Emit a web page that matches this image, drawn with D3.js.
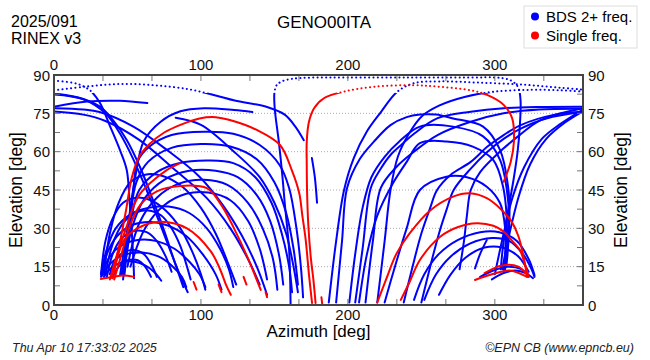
<!DOCTYPE html>
<html><head><meta charset="utf-8">
<script src="https://cdn.jsdelivr.net/npm/d3@7"></script>
<style>body{margin:0;background:#fff}svg{font-family:"Liberation Sans",Arial,sans-serif}</style>
</head><body><svg id="c" width="650" height="360"></svg>
<script>
// ---------- data ----------
const xTickLabels = [0, 100, 200, 300];
const yTickLabels = [0, 15, 30, 45, 60, 75, 90];
const gridLevels = [15, 30, 45, 60, 75];
const legendItems = ["BDS 2+ freq.", "Single freq."];
const titleText = "GENO00ITA";
const headerLines = ["2025/091", "RINEX v3"];
const footerLeft = "Thu Apr 10 17:33:02 2025";
const footerRight = "\u00A9EPN CB (www.epncb.eu)";

// satellite tracks [azimuth, elevation]
const blueTracks = [
  [[0,87.8],[15.4,86.6],[24.5,84],[31.3,79],[38.1,70],[44.9,60.6],[49.5,52.8],[51.5,40],[53,28],[54,18],[54.5,10.5]],
  [[0,84],[22,85.5],[45,86.5],[68,86],[91,84.5],[110,82],[123,80],[145,77.5],[157,74.5],[164,70],[170,64.5]],
  [[0,77.6],[22.5,79.6],[45,79.9],[63.5,79]],
  [[0,82.8],[17.7,81],[31.3,77.6],[40,72.4],[49.5,64.6],[58.5,54],[67.4,41],[75,29],[82,17],[88,7]],
  [[0,82.4],[20,80.5],[35,75],[45,67],[54,57],[63,45],[72,32],[80,20],[87,10],[91,5]],
  [[0,77],[20,76.5],[31,75.5],[54,69.8],[77,60.6],[99,50.2],[115,39],[128,27],[138,15],[145,4]],
  [[0,75.7],[20,74.5],[35,72],[58,64.6],[81,53.5],[104,41.8],[120,30],[132,18],[140,8]],
  [[45,12],[50,30],[53,42],[55.6,51],[61,64],[72.6,71.7],[86,75.8],[102,77],[122.5,76.3],[135,75.5]],
  [[46,12],[51,30],[54,45],[56.7,56],[65,62],[80,66.5],[102,67.8],[122,67],[140,62.6],[153.5,54.8],[160,45.8],[165,30],[168,15],[169.5,3]],
  [[47,12],[52,35],[56,48],[64,56],[80,61.5],[100,63],[120,62],[138,57],[150,48],[158,36],[163,22],[166,8]],
  [[48,12],[53,35],[58,45],[70,52],[85,55.5],[105,56.5],[122,55.5],[137,50],[148,40],[155,28],[160,15],[162,5]],
  [[47,10],[53,30],[62,42],[75,49],[92,52.5],[110,52.5],[125,50],[138,43],[147,33],[153,20],[156,8]],
  [[50,15],[58,32],[70,42],[85,47.5],[102,49],[118,47],[132,40],[142,30],[149,18],[152,6]],
  [[52,15],[62,30],[75,39],[90,43.5],[105,44],[120,41],[132,33],[140,22],[145,10]],
  [[82.8,73.3],[100,70.5],[122.5,60],[140,50],[150,40],[158,28],[163,15],[166,5]],
  [[32,12],[36,22],[42,30],[52,35.5],[64,38],[78,38.5],[92,36],[104,30],[113,22],[119,14],[122,7]],
  [[32,11],[36,20],[43,27],[54,31.5],[66,32.5],[78,31],[90,27],[101,20],[110,12],[114,6]],
  [[33,12],[37,18],[45,23],[58,25.5],[70,25],[82,22],[92,17],[99,12],[103,7]],
  [[33,11.5],[38,16],[47,19.5],[60,20.5],[71,19],[80,15.5],[87,11],[90,7]],
  [[34,11],[38,14],[45,16.5],[54,17],[62,15.5],[68,13],[73,9.5]],
  [[35,12],[40,24],[47,32],[55,36],[64,37],[73,35],[80,30],[86,23],[90,16],[93,10]],
  [[36,11],[40,20],[46,26],[55,29],[63,28.5],[70,25],[76,19],[80,13]],
  [[38,12],[41,17],[47,20.5],[54,21.5],[61,20],[66,16],[70,11]],
  [[40,11],[44,15],[50,17.5],[57,17.5],[62,15],[66,11]],
  [[32,12],[35,25],[40,34],[47,40],[56,42],[66,41],[76,37],[86,30],[94,21],[100,12],[103,6]],
  [[34,12],[38,28],[44,40],[52,48],[62,51],[74,50.5],[88,46],[100,38],[110,28],[118,17],[124,8]],
  [[161,0.5],[160,21.5],[157,40],[155.5,50],[153,63.9],[150.2,77],[150,83],[151.5,86],[155,87.5],[162,88.5],[175,89],[200,89],[240,89],[280,89],[305,88.8],[312,87.5],[316,85],[317.5,80],[317,70],[315.5,60],[313,50],[310,40],[307,30],[305,20],[304,14]],
  [[175.5,57.5],[177.5,50],[179,40]],
  [[187,1],[192,25],[197.4,45],[204,57.5],[213,68],[222.6,75.6],[233.5,83.4],[245,86.8],[262,87.5],[290,87],[320,86.2],[345,85],[360,84.3]],
  [[192,1],[196,25],[199.4,45.7],[208,57],[217.8,64],[229,70.4],[240,73.5],[249,74.5],[260,74.5],[271.6,73],[292,69.8],[303.6,60.6],[309,46.3],[310,37],[309,25],[307,14]],
  [[201,1],[205,20],[210,38],[216,50],[225,58],[235,64],[249,69.8],[271.6,69.8],[292,66],[303.6,56.7],[309,41],[309.5,28],[308,16]],
  [[207.6,1],[213,20],[220,35],[230,47],[240,56],[249,63.3],[267,64],[285,62],[299,56.7],[305.6,46.3],[308,35],[308,24],[306,14]],
  [[225,1],[232,15],[240,30],[249,45],[267,50.2],[281,50],[294.5,46.3],[303.6,39.8],[307,30],[307,20],[306,13]],
  [[220,1],[225,25],[229,45],[234,58],[241,66.5],[250,73.7],[262,78],[280,81.5],[300,83.5],[325,84.2],[345,84],[360,83.5]],
  [[205,1],[210,22],[215.6,45.8],[222,53],[229,58.7],[237,63],[245,67],[260.7,73],[283.6,75.6],[306,77],[330,77.5],[360,77.6]],
  [[212,1],[217,25],[222.4,45.8],[233,54],[245,60],[261,66.5],[283.6,71.7],[306,75],[330,76.5],[360,76.8]],
  [[238,1],[244,15],[250,28],[256,38],[260.7,45],[270,51],[283.6,56],[295,62],[306,66.5],[317.6,70.4],[340,74.4],[360,75.6]],
  [[250,1],[256,15],[262,28],[267,37],[272,45],[283,53],[295,60],[306,65],[317.6,69],[335,73],[360,75.5]],
  [[276,14],[279,25],[281,35],[283.6,45],[290,52],[306,61.3],[318,67],[329,71.7],[345,75],[360,77]],
  [[300,12],[306,28],[312,42],[320,54],[332,65],[345,71],[360,76.5]],
  [[305,14],[310,28],[316,42],[324,55],[335,65],[348,71.5],[360,75.8]],
  [[245,2],[252,12],[262,20],[275,25.5],[290,28.5],[303,28.5],[315,25],[323,18],[327,11.7]],
  [[252,2],[260,12],[270,19],[283,24],[298,26.2],[310,25],[319,20],[325,14],[327,11]],
  [[262,4],[270,12],[280,18.5],[293,22.5],[305,22.5],[316,19],[323,13]],
  [[290,11],[299,13.5],[309,15],[318,14],[323,11.5]],
  [[298,10],[306,12.5],[314,13.5],[321,12.5],[326,10.5]],
  [[286.5,14.3],[290,20],[294.5,25.4]]
];

const redTracks = [
  [[39.5,10.5],[45,25],[49,37],[53,50],[58,58],[65,63],[75,67.5],[86,70.5],[99,73],[110,73.5],[122,72],[138,68.5],[153.8,62.6],[161.8,52.8],[166.8,44],[169,35],[171.3,25.4],[173.5,12],[175.6,0.8]],
  [[178,0.8],[176.5,10],[174.7,18.9],[173,32],[172.2,45],[172,55],[172,63.9],[173.5,71.7],[177,77],[183.7,80.9],[197.4,83.5],[217.8,85.4],[245,86],[260.7,85.5],[283.6,84],[294.7,82.2],[306,78.3],[311.7,73.2],[313,64],[310.8,56],[306,48.2]],
  [[38,10],[43,20],[49,30],[54,38.5],[58,43],[65.3,47.6],[76.7,52.8],[85.8,55.5]],
  [[41,10],[46,20],[51,30],[58.5,39],[70,44.5],[85.8,46.6],[104,45.7],[114,39],[122.5,30],[131.5,18.9],[140.7,5.9]],
  [[40,10.5],[43,18],[47.2,25],[56.7,30],[72.6,32.6],[90.5,30],[106.7,21],[113,14],[117,8],[120.3,4]],
  [[31.8,10.2],[40,11],[47,11.5],[54.5,11]],
  [[220,1],[226,10],[233,20],[242,28],[256,37],[271.6,42.4],[283,43.7],[294.5,41.8],[303.6,37.8],[311,33],[316,27],[319.5,19],[322,11]],
  [[236,2],[242,9],[249,17.6],[262.8,26.7],[275,30.5],[287.7,32],[299,31],[306,28.7],[312,25],[317,21.5],[320.5,16],[323,11]],
  [[286.5,9.8],[298,12],[310,13.5],[322,11]],
  [[293,12.5],[305,15.5],[316,15],[323,11]],
  [[95,9],[97,6]],[[112,8],[114,5]],[[129,11],[131,8]],[[144,5],[145,3]],[[182,3],[182.5,0.5]]
];

// ---------- drawing ----------
const svg = d3.select('#c');
const x = d3.scaleLinear().domain([0, 360]).range([54, 583]);
const y = d3.scaleLinear().domain([0, 90]).range([305, 75]);
const dotLevel = 83;

const defs = svg.append('defs');
defs.append('clipPath').attr('id','cTop').append('rect')
  .attr('x', x(0)).attr('y', y(90)).attr('width', x(360)-x(0)).attr('height', y(dotLevel)-y(90));
defs.append('clipPath').attr('id','cBot').append('rect')
  .attr('x', x(0)).attr('y', y(dotLevel)).attr('width', x(360)-x(0)).attr('height', y(0)-y(dotLevel));

// grid
svg.append('g').selectAll('line').data(gridLevels).join('line')
  .attr('x1', x(0)).attr('x2', x(360)).attr('y1', d=>y(d)).attr('y2', d=>y(d))
  .attr('stroke', '#aaa').attr('stroke-width', 1).attr('stroke-dasharray', '1,2');

// tracks
const line = d3.line().x(d=>x(d[0])).y(d=>y(d[1])).curve(d3.curveCatmullRom.alpha(0.5));
function drawTracks(data, color) {
  svg.append('g').attr('clip-path','url(#cBot)').selectAll('path').data(data).join('path')
    .attr('d', line).attr('fill','none').attr('stroke', color).attr('stroke-width', 2.0)
    .attr('stroke-linecap','round').attr('stroke-linejoin','round');
  svg.append('g').attr('clip-path','url(#cTop)').selectAll('path').data(data).join('path')
    .attr('d', line).attr('fill','none').attr('stroke', color).attr('stroke-width', 2.0)
    .attr('stroke-linecap','round').attr('stroke-dasharray','0.1,4.2');
}
drawTracks(blueTracks, '#0000ff');
drawTracks(redTracks, '#ff0000');

// ticks (inward)
const xMinor = d3.range(0, 359, 100/3);
const yMinor = d3.range(0, 90.1, 7.5);
const tg = svg.append('g').attr('stroke', '#777').attr('stroke-width', 1);
tg.selectAll('.xb').data(xMinor).join('line').attr('class','xb').attr('x1', d=>x(d)).attr('x2', d=>x(d)).attr('y1', y(0)).attr('y2', y(0)-6);
tg.selectAll('.xt').data(xMinor).join('line').attr('class','xt').attr('x1', d=>x(d)).attr('x2', d=>x(d)).attr('y1', y(90)).attr('y2', y(90)+6);
tg.selectAll('.yl').data(yMinor).join('line').attr('class','yl').attr('x1', x(0)).attr('x2', x(0)+6).attr('y1', d=>y(d)).attr('y2', d=>y(d));
tg.selectAll('.yr').data(yMinor).join('line').attr('class','yr').attr('x1', x(360)).attr('x2', x(360)-6).attr('y1', d=>y(d)).attr('y2', d=>y(d));

// frame
svg.append('rect').attr('x', x(0)).attr('y', y(90)).attr('width', x(360)-x(0)).attr('height', y(0)-y(90))
  .attr('fill','none').attr('stroke','#444').attr('stroke-width', 2);

// tick labels
const lab = svg.append('g').attr('font-size', 15).attr('fill', '#111');
lab.selectAll('.xbl').data(xTickLabels).join('text').attr('class','xbl').attr('x', d=>x(d)).attr('y', y(0)+15).attr('text-anchor','middle').text(d=>d);
lab.selectAll('.xtl').data(xTickLabels).join('text').attr('class','xtl').attr('x', d=>x(d)).attr('y', y(90)-5).attr('text-anchor','middle').text(d=>d);
lab.selectAll('.yll').data(yTickLabels).join('text').attr('class','yll').attr('x', x(0)-4).attr('y', d=>y(d)+5.5).attr('text-anchor','end').text(d=>d);
lab.selectAll('.yrl').data(yTickLabels).join('text').attr('class','yrl').attr('x', x(360)+5).attr('y', d=>y(d)+5.5).attr('text-anchor','start').text(d=>d);

// axis titles
svg.append('text').attr('x', (x(0)+x(360))/2).attr('y', 336.5).attr('text-anchor','middle').attr('font-size', 17).text('Azimuth [deg]');
svg.append('text').attr('transform', `translate(22,${(y(0)+y(90))/2}) rotate(-90)`).attr('text-anchor','middle').attr('font-size', 17.5).text('Elevation [deg]');
svg.append('text').attr('transform', `translate(627,${(y(0)+y(90))/2}) rotate(-90)`).attr('text-anchor','middle').attr('font-size', 17.5).text('Elevation [deg]');

// header
svg.append('text').attr('x', 11).attr('y', 26.5).attr('font-size', 16).text(headerLines[0]);
svg.append('text').attr('x', 11).attr('y', 44).attr('font-size', 16).text(headerLines[1]);
svg.append('text').attr('x', 324).attr('y', 28).attr('text-anchor','middle').attr('font-size', 17).text(titleText);

// legend
const lg = svg.append('g');
lg.append('rect').attr('x', 524).attr('y', 6).attr('width', 113).attr('height', 42).attr('fill','#fff').attr('stroke','#ddd');
const legColors = ['#0000ff', '#ff0000'];
legendItems.forEach((t, i) => {
  lg.append('circle').attr('cx', 535).attr('cy', 16.5 + i*19).attr('r', 4).attr('fill', legColors[i]);
  lg.append('text').attr('x', 546).attr('y', 22 + i*19).attr('font-size', 15).text(t);
});

// footer
svg.append('text').attr('x', 12).attr('y', 352).attr('font-size', 12.5).attr('font-style','italic').attr('fill','#222').text(footerLeft);
svg.append('text').attr('x', 634).attr('y', 352).attr('text-anchor','end').attr('font-size', 12.5).attr('font-style','italic').attr('fill','#222').text(footerRight);
</script></body></html>
